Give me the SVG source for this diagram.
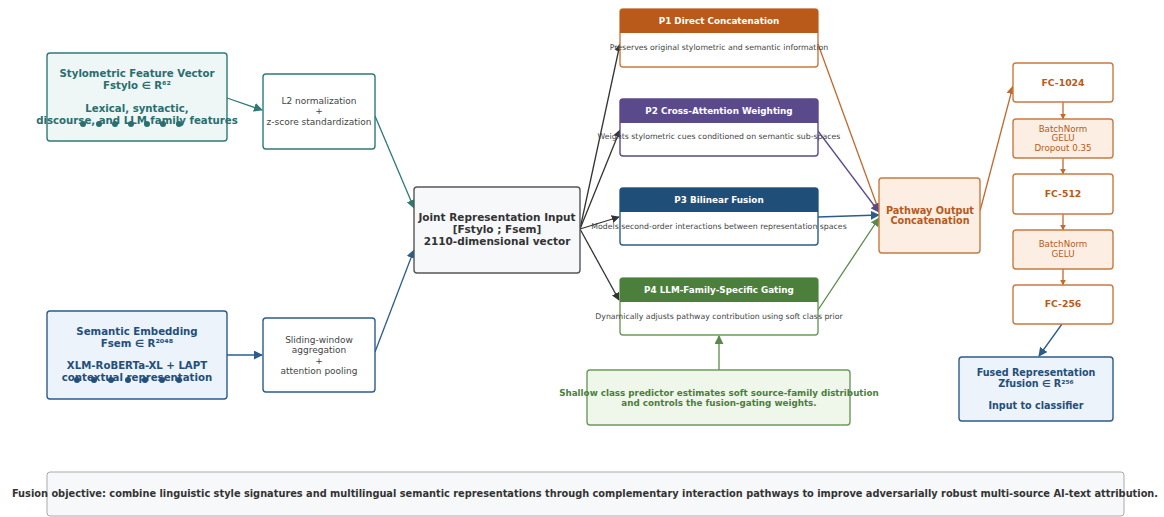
<svg xmlns="http://www.w3.org/2000/svg" width="1164" height="517" viewBox="0 0 1164 517">
  <style>
    text { font-family: "DejaVu Sans", "Liberation Sans", sans-serif; text-anchor: middle; }
    .b { font-weight: bold; }
    .box { stroke-width: 1.4; }
    .teal { fill: #2a6e70; }
    .blu { fill: #244f7a; }
    .org { fill: #b85a1a; }
    .grn { fill: #4a7f3a; }
    .dk { fill: #333333; }
    .gr { fill: #444444; }
    .small { font-size: 9px; }
    .desc { font-size: 7.8px; fill: #444444; }
    .hdr { font-size: 8.8px; font-weight: bold; fill: #ffffff; }
    .big { font-size: 10.2px; font-weight: bold; }
    .conn { fill: none; stroke-width: 1.3; }
  </style>
  <defs>
    <marker id="aTeal" viewBox="0 0 10 10" refX="9" refY="5" markerWidth="9" markerHeight="9" markerUnits="userSpaceOnUse" orient="auto"><path d="M0,0 L10,5 L0,10 z" fill="#2d7a78"/></marker>
    <marker id="aBlue" viewBox="0 0 10 10" refX="9" refY="5" markerWidth="9" markerHeight="9" markerUnits="userSpaceOnUse" orient="auto"><path d="M0,0 L10,5 L0,10 z" fill="#2b5c8a"/></marker>
    <marker id="aDark" viewBox="0 0 10 10" refX="9" refY="5" markerWidth="8" markerHeight="8" markerUnits="userSpaceOnUse" orient="auto"><path d="M0,0 L10,5 L0,10 z" fill="#333333"/></marker>
    <marker id="aOrg" viewBox="0 0 10 10" refX="9" refY="5" markerWidth="9" markerHeight="9" markerUnits="userSpaceOnUse" orient="auto"><path d="M0,0 L10,5 L0,10 z" fill="#c06a2c"/></marker>
    <marker id="aOrgS" viewBox="0 0 10 10" refX="9" refY="5" markerWidth="6" markerHeight="6" markerUnits="userSpaceOnUse" orient="auto"><path d="M0,0 L10,5 L0,10 z" fill="#c06a2c"/></marker>
    <marker id="aPur" viewBox="0 0 10 10" refX="9" refY="5" markerWidth="9" markerHeight="9" markerUnits="userSpaceOnUse" orient="auto"><path d="M0,0 L10,5 L0,10 z" fill="#5b4a8b"/></marker>
    <marker id="aGrn" viewBox="0 0 10 10" refX="9" refY="5" markerWidth="9" markerHeight="9" markerUnits="userSpaceOnUse" orient="auto"><path d="M0,0 L10,5 L0,10 z" fill="#5a8a48"/></marker>
  </defs>

  <rect width="1164" height="517" fill="#ffffff"/>

  <!-- connectors -->
  <g id="connectors">
    <line class="conn" x1="227" y1="98" x2="262" y2="110" stroke="#2d7a78" marker-end="url(#aTeal)"/>
    <line class="conn" x1="375" y1="116" x2="414" y2="208" stroke="#2d7a78" marker-end="url(#aTeal)"/>
    <line class="conn" x1="227" y1="355" x2="262" y2="355" stroke="#2b5c8a" marker-end="url(#aBlue)"/>
    <line class="conn" x1="375" y1="352" x2="414" y2="250" stroke="#2b5c8a" marker-end="url(#aBlue)"/>

    <line class="conn" x1="580" y1="229" x2="620" y2="44" stroke="#333333" marker-end="url(#aDark)"/>
    <line class="conn" x1="580" y1="229" x2="620" y2="130" stroke="#333333" marker-end="url(#aDark)"/>
    <line class="conn" x1="580" y1="229" x2="619" y2="217" stroke="#333333" marker-end="url(#aDark)"/>
    <line class="conn" x1="580" y1="229" x2="619" y2="300" stroke="#333333" marker-end="url(#aDark)"/>

    <line class="conn" x1="818" y1="44" x2="879" y2="211" stroke="#c06a2c" marker-end="url(#aOrg)"/>
    <line class="conn" x1="818" y1="131" x2="879" y2="212" stroke="#5b4a8b" marker-end="url(#aPur)"/>
    <line class="conn" x1="818" y1="217" x2="879" y2="215" stroke="#2b5c8a" marker-end="url(#aBlue)"/>
    <line class="conn" x1="818" y1="310" x2="879" y2="218" stroke="#5a8a48" marker-end="url(#aGrn)"/>

    <line class="conn" x1="719" y1="370" x2="719" y2="336" stroke="#5a8a48" marker-end="url(#aGrn)"/>

    <line class="conn" x1="980" y1="211" x2="1013" y2="86" stroke="#c06a2c" marker-end="url(#aOrg)"/>
    <line class="conn" x1="1063" y1="102" x2="1063" y2="119" stroke="#c06a2c" marker-end="url(#aOrgS)"/>
    <line class="conn" x1="1063" y1="158" x2="1063" y2="174" stroke="#c06a2c" marker-end="url(#aOrgS)"/>
    <line class="conn" x1="1063" y1="214" x2="1063" y2="230" stroke="#c06a2c" marker-end="url(#aOrgS)"/>
    <line class="conn" x1="1063" y1="269" x2="1063" y2="285" stroke="#c06a2c" marker-end="url(#aOrgS)"/>
    <line class="conn" x1="1062" y1="324" x2="1039" y2="356" stroke="#2b5c8a" marker-end="url(#aBlue)"/>
  </g>

  <!-- stylometric input -->
  <g id="stylo">
    <rect class="box" x="47" y="53" width="180" height="88" rx="3" fill="#eef7f6" stroke="#2d7a78"/>
    <text class="big teal" x="137" y="77">Stylometric Feature Vector</text>
    <text class="big teal" x="137" y="89">Fstylo ∈ R⁶²</text>
    <text class="big teal" x="137" y="112">Lexical, syntactic,</text>
    <text class="big teal" x="137" y="124">discourse, and LLM family features</text>
    <g fill="#2a6e70">
      <circle cx="83" cy="124" r="3"/><circle cx="99" cy="124" r="3"/><circle cx="115" cy="124" r="3"/>
      <circle cx="131" cy="124" r="3"/><circle cx="147" cy="124" r="3"/><circle cx="163" cy="124" r="3"/>
      <circle cx="179" cy="124" r="3"/>
    </g>
  </g>

  <g id="l2norm">
    <rect class="box" x="263" y="74" width="112" height="75" rx="3" fill="#ffffff" stroke="#2d7a78"/>
    <text class="small gr" x="319" y="104">L2 normalization</text>
    <text class="small gr" x="319" y="114">+</text>
    <text class="small gr" x="319" y="125">z-score standardization</text>
  </g>

  <!-- semantic input -->
  <g id="semantic">
    <rect class="box" x="47" y="311" width="180" height="88" rx="3" fill="#edf3fa" stroke="#2b5c8a"/>
    <text class="big blu" x="137" y="335">Semantic Embedding</text>
    <text class="big blu" x="137" y="347">Fsem ∈ R²⁰⁴⁸</text>
    <text class="big blu" x="137" y="369">XLM-RoBERTa-XL + LAPT</text>
    <text class="big blu" x="137" y="381">contextual representation</text>
    <g fill="#244f7a">
      <circle cx="77" cy="380" r="3"/><circle cx="94" cy="380" r="3"/><circle cx="111" cy="380" r="3"/>
      <circle cx="128" cy="380" r="3"/><circle cx="145" cy="380" r="3"/><circle cx="162" cy="380" r="3"/>
      <circle cx="179" cy="380" r="3"/>
    </g>
  </g>

  <g id="sliding">
    <rect class="box" x="263" y="318" width="112" height="74" rx="3" fill="#ffffff" stroke="#2b5c8a"/>
    <text class="small gr" x="319" y="343">Sliding-window</text>
    <text class="small gr" x="319" y="353">aggregation</text>
    <text class="small gr" x="319" y="364">+</text>
    <text class="small gr" x="319" y="374">attention pooling</text>
  </g>

  <g id="joint">
    <rect class="box" x="414" y="187" width="166" height="86" rx="3" fill="#f7f8fa" stroke="#555555"/>
    <text class="dk b" x="497" y="221" font-size="10.5">Joint Representation Input</text>
    <text class="dk b" x="497" y="233" font-size="10.5">[Fstylo ; Fsem]</text>
    <text class="dk b" x="497" y="245" font-size="10.5">2110-dimensional vector</text>
  </g>

  <!-- pathways -->
  <g id="p1">
    <rect class="box" x="620" y="9" width="198" height="58" rx="3" fill="#ffffff" stroke="#c87a40"/>
    <path d="M620,33 V12 a3,3 0 0 1 3,-3 H815 a3,3 0 0 1 3,3 V33 z" fill="#b95a1a"/>
    <text class="hdr" x="719" y="24">P1 Direct Concatenation</text>
    <text class="desc" x="719" y="50">Preserves original stylometric and semantic information</text>
  </g>
  <g id="p2">
    <rect class="box" x="620" y="99" width="198" height="57" rx="3" fill="#ffffff" stroke="#5b4a8b"/>
    <path d="M620,123 V102 a3,3 0 0 1 3,-3 H815 a3,3 0 0 1 3,3 V123 z" fill="#5b4a8b"/>
    <text class="hdr" x="719" y="114">P2 Cross-Attention Weighting</text>
    <text class="desc" x="719" y="139">Weights stylometric cues conditioned on semantic sub-spaces</text>
  </g>
  <g id="p3">
    <rect class="box" x="620" y="188" width="198" height="57" rx="3" fill="#ffffff" stroke="#2b5c8a"/>
    <path d="M620,212 V191 a3,3 0 0 1 3,-3 H815 a3,3 0 0 1 3,3 V212 z" fill="#1f4e79"/>
    <text class="hdr" x="719" y="203">P3 Bilinear Fusion</text>
    <text class="desc" x="719" y="229">Models second-order interactions between representation spaces</text>
  </g>
  <g id="p4">
    <rect class="box" x="620" y="278" width="198" height="57" rx="3" fill="#ffffff" stroke="#6d9a5c"/>
    <path d="M620,302 V281 a3,3 0 0 1 3,-3 H815 a3,3 0 0 1 3,3 V302 z" fill="#4d7f3c"/>
    <text class="hdr" x="719" y="293">P4 LLM-Family-Specific Gating</text>
    <text class="desc" x="719" y="319">Dynamically adjusts pathway contribution using soft class prior</text>
  </g>

  <g id="shallow">
    <rect class="box" x="587" y="370" width="263" height="55" rx="3" fill="#eff7ea" stroke="#6d9a5c"/>
    <text class="b grn" x="719" y="396" font-size="8.75">Shallow class predictor estimates soft source-family distribution</text>
    <text class="b grn" x="719" y="406" font-size="8.75">and controls the fusion-gating weights.</text>
  </g>

  <g id="pathway-out">
    <rect class="box" x="879" y="178" width="101" height="75" rx="3" fill="#fdeee3" stroke="#c87a40"/>
    <text class="b org" x="930" y="214" font-size="9.7">Pathway Output</text>
    <text class="b org" x="930" y="224" font-size="9.7">Concatenation</text>
  </g>

  <!-- fusion head -->
  <g id="fc1024">
    <rect class="box" x="1013" y="63" width="100" height="39" rx="3" fill="#ffffff" stroke="#c87a40"/>
    <text class="b org" x="1063" y="86" font-size="9.3">FC-1024</text>
  </g>
  <g id="bn1">
    <rect class="box" x="1013" y="119" width="100" height="39" rx="3" fill="#fdeee3" stroke="#c87a40"/>
    <text class="org" x="1063" y="132" font-size="8.7">BatchNorm</text>
    <text class="org" x="1063" y="141" font-size="8.7">GELU</text>
    <text class="org" x="1063" y="151" font-size="8.7">Dropout 0.35</text>
  </g>
  <g id="fc512">
    <rect class="box" x="1013" y="174" width="100" height="40" rx="3" fill="#ffffff" stroke="#c87a40"/>
    <text class="b org" x="1063" y="197" font-size="9.3">FC-512</text>
  </g>
  <g id="bn2">
    <rect class="box" x="1013" y="230" width="100" height="39" rx="3" fill="#fdeee3" stroke="#c87a40"/>
    <text class="org" x="1063" y="247" font-size="8.7">BatchNorm</text>
    <text class="org" x="1063" y="257" font-size="8.7">GELU</text>
  </g>
  <g id="fc256">
    <rect class="box" x="1013" y="285" width="100" height="39" rx="3" fill="#ffffff" stroke="#c87a40"/>
    <text class="b org" x="1063" y="307" font-size="9.3">FC-256</text>
  </g>

  <g id="fused">
    <rect class="box" x="959" y="357" width="154" height="64" rx="3" fill="#edf3fa" stroke="#2b5c8a"/>
    <text class="b blu" x="1036" y="376" font-size="9.6">Fused Representation</text>
    <text class="b blu" x="1036" y="387" font-size="9.6">Zfusion ∈ R²⁵⁶</text>
    <text class="b blu" x="1036" y="409" font-size="9.6">Input to classifier</text>
  </g>

  <g id="objective">
    <rect x="47" y="472" width="1077" height="44" rx="3" fill="#f7f8fa" stroke="#aaaaaa" stroke-width="1"/>
    <text class="b dk" x="585" y="497" font-size="9.8">Fusion objective: combine linguistic style signatures and multilingual semantic representations through complementary interaction pathways to improve adversarially robust multi-source AI-text attribution.</text>
  </g>
</svg>
